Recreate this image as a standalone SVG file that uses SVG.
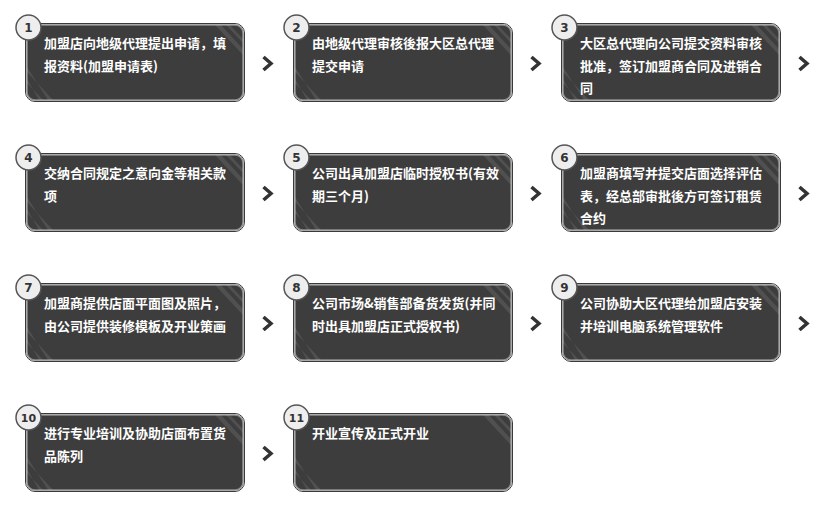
<svg xmlns="http://www.w3.org/2000/svg" xmlns:xlink="http://www.w3.org/1999/xlink" width="830" height="515" viewBox="0 0 830 515">
<style>
.bx{fill:#3d3d3d;stroke:#8e8e8e;stroke-width:1.5}
.bo{fill:none;stroke:#3a3a3a;stroke-width:1}
.st{fill:#ffffff;fill-opacity:0.1}
.nc{fill:#eeeeee;stroke:#555555;stroke-width:1.5}
.nt{font-family:"DejaVu Sans",sans-serif;font-weight:bold;font-size:12px;fill:#333333;text-anchor:middle}
.tx{font-family:"Noto Sans CJK SC","Noto Sans",sans-serif;font-weight:bold;font-size:13px;fill:#ffffff}
.ch{fill:none;stroke:#333333;stroke-width:3.5;stroke-linecap:butt;stroke-linejoin:miter}
</style>
<defs>
<clipPath id="cp"><rect x="0" y="0" width="216" height="75" rx="8"/></clipPath>
<g id="box">
<rect class="bo" x="-1.5" y="-1.5" width="219" height="78" rx="9.5"/>
<rect class="bx" x="0" y="0" width="216" height="75" rx="8"/>
<g clip-path="url(#cp)">
<polygon class="st" points="188,0 194,0 216,24 216,30"/>
<polygon class="st" points="199,0 203,0 216,14 216,18"/>
<polygon class="st" points="0,42 0,47 26,75 21,75"/>
<polygon class="st" points="0,54 0,58 16,75 12,75"/>
</g>
</g>
<path id="chev" class="ch" d="M0,0 L7.5,6.5 L0,13"/>
</defs>
<g id="connectors">
<use xlink:href="#chev" x="263.5" y="57"/>
<use xlink:href="#chev" x="531.5" y="57"/>
<use xlink:href="#chev" x="799.5" y="57"/>
<use xlink:href="#chev" x="263.5" y="187"/>
<use xlink:href="#chev" x="531.5" y="187"/>
<use xlink:href="#chev" x="799.5" y="187"/>
<use xlink:href="#chev" x="263.5" y="317"/>
<use xlink:href="#chev" x="531.5" y="317"/>
<use xlink:href="#chev" x="799.5" y="317"/>
<use xlink:href="#chev" x="263.5" y="447"/>
</g>
<g id="node1">
<use xlink:href="#box" x="27" y="25"/>
<circle class="nc" cx="28.5" cy="27.5" r="12.5"/>
<text class="nt" x="28.5" y="32">1</text>
<text class="tx" x="44" y="48">加盟店向地级代理提出申请，填</text>
<text class="tx" x="44" y="71">报资料(加盟申请表)</text>
</g>
<g id="node2">
<use xlink:href="#box" x="295" y="25"/>
<circle class="nc" cx="296.5" cy="27.5" r="12.5"/>
<text class="nt" x="296.5" y="32">2</text>
<text class="tx" x="312" y="48">由地级代理审核後报大区总代理</text>
<text class="tx" x="312" y="71">提交申请</text>
</g>
<g id="node3">
<use xlink:href="#box" x="563" y="25"/>
<circle class="nc" cx="564.5" cy="27.5" r="12.5"/>
<text class="nt" x="564.5" y="32">3</text>
<text class="tx" x="580" y="48">大区总代理向公司提交资料审核</text>
<text class="tx" x="580" y="71">批准，签订加盟商合同及进销合</text>
<text class="tx" x="580" y="93">同</text>
</g>
<g id="node4">
<use xlink:href="#box" x="27" y="155"/>
<circle class="nc" cx="28.5" cy="157.5" r="12.5"/>
<text class="nt" x="28.5" y="162">4</text>
<text class="tx" x="44" y="178">交纳合同规定之意向金等相关款</text>
<text class="tx" x="44" y="201">项</text>
</g>
<g id="node5">
<use xlink:href="#box" x="295" y="155"/>
<circle class="nc" cx="296.5" cy="157.5" r="12.5"/>
<text class="nt" x="296.5" y="162">5</text>
<text class="tx" x="312" y="178">公司出具加盟店临时授权书(有效</text>
<text class="tx" x="312" y="201">期三个月)</text>
</g>
<g id="node6">
<use xlink:href="#box" x="563" y="155"/>
<circle class="nc" cx="564.5" cy="157.5" r="12.5"/>
<text class="nt" x="564.5" y="162">6</text>
<text class="tx" x="580" y="178">加盟商填写并提交店面选择评估</text>
<text class="tx" x="580" y="201">表，经总部审批後方可签订租赁</text>
<text class="tx" x="580" y="223">合约</text>
</g>
<g id="node7">
<use xlink:href="#box" x="27" y="285"/>
<circle class="nc" cx="28.5" cy="287.5" r="12.5"/>
<text class="nt" x="28.5" y="292">7</text>
<text class="tx" x="44" y="308">加盟商提供店面平面图及照片，</text>
<text class="tx" x="44" y="331">由公司提供装修模板及开业策画</text>
</g>
<g id="node8">
<use xlink:href="#box" x="295" y="285"/>
<circle class="nc" cx="296.5" cy="287.5" r="12.5"/>
<text class="nt" x="296.5" y="292">8</text>
<text class="tx" x="312" y="308">公司市场&amp;销售部备货发货(并同</text>
<text class="tx" x="312" y="331">时出具加盟店正式授权书)</text>
</g>
<g id="node9">
<use xlink:href="#box" x="563" y="285"/>
<circle class="nc" cx="564.5" cy="287.5" r="12.5"/>
<text class="nt" x="564.5" y="292">9</text>
<text class="tx" x="580" y="308">公司协助大区代理给加盟店安装</text>
<text class="tx" x="580" y="331">并培训电脑系统管理软件</text>
</g>
<g id="node10">
<use xlink:href="#box" x="27" y="415"/>
<circle class="nc" cx="28.5" cy="417.5" r="12.5"/>
<text class="nt" x="28.5" y="422" style="font-size:11px">10</text>
<text class="tx" x="44" y="438">进行专业培训及协助店面布置货</text>
<text class="tx" x="44" y="461">品陈列</text>
</g>
<g id="node11">
<use xlink:href="#box" x="295" y="415"/>
<circle class="nc" cx="296.5" cy="417.5" r="12.5"/>
<text class="nt" x="296.5" y="422" style="font-size:11px">11</text>
<text class="tx" x="312" y="438">开业宣传及正式开业</text>
</g>
</svg>
